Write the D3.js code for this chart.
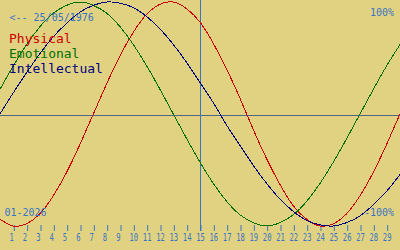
<!DOCTYPE html>
<html lang="en">
<head>
    <meta charset="UTF-8">
    <title>Biorhythm 01-2026</title>
    <script src="https://d3js.org/d3.v7.min.js"></script>
    <style type="text/css">
        body { margin: 0; background: #e1d282; }
        svg { display: block; }
        text { font-family: "DejaVu Sans Mono", monospace; }
    </style>
</head>
    <body>
        <script type="text/javascript">

        //Width and height
        var w = 400;
        var h = 250;

        //Days of the month (0 and 30 are the edges), values in percent
        var days = d3.range(0, 31);
        var physical = [-94, -100, -98, -89, -73, -52, -27, 0, 27, 52, 73, 89, 98, 100, 94, 82,
                        63, 40, 14, -14, -40, -63, -82, -94, -100, -98, -89, -73, -52, -27, 0];
        var emotional = [22, 43, 62, 78, 90, 97, 100, 97, 90, 78, 62, 43, 22, 0, -22, -43,
                         -62, -78, -90, -97, -100, -97, -90, -78, -62, -43, -22, 0, 22, 43, 62];
        var intellectual = [0, 19, 37, 54, 69, 81, 91, 97, 100, 99, 95, 87, 76, 62, 46, 28,
                            10, -10, -28, -46, -62, -76, -87, -95, -99, -100, -97, -91, -81, -69, -54];
        var tickDays = d3.range(1, 30);
        var today = 15;
        var birthLabel = "<-- 25/05/1976";
        var monthLabel = "01-2026";
        var legendNames = ["Physical", "Emotional", "Intellectual"];
        var legendColors = ["#cc0000", "#007000", "#000080"];

        var series = [physical, emotional, intellectual];

        var xScale = d3.scaleLinear().domain([0, 30]).range([0, w]);
        var yScale = d3.scaleLinear().domain([-100, 100]).range([226, 2]);

        var svg = d3.select("body")
            .append("svg")
            .attr("width", w)
            .attr("height", h);

        svg.append("rect")
            .attr("width", w)
            .attr("height", h)
            .attr("fill", "#e1d282");

        //Zero line
        svg.append("line")
            .attr("x1", 0).attr("x2", w)
            .attr("y1", 115.5).attr("y2", 115.5)
            .attr("stroke", "#4f6584")
            .attr("stroke-width", 1);

        //Today marker
        svg.append("line")
            .attr("x1", Math.round(xScale(today)) + 0.5)
            .attr("x2", Math.round(xScale(today)) + 0.5)
            .attr("y1", 0).attr("y2", 231)
            .attr("stroke", "#3a74c4")
            .attr("stroke-width", 1);

        //Day axis
        var axis = d3.axisBottom(xScale)
            .tickValues(tickDays)
            .tickSize(6)
            .tickFormat(d3.format("d"));

        var gAxis = svg.append("g")
            .attr("transform", "translate(0,225)")
            .call(axis);
        gAxis.select(".domain").remove();
        gAxis.selectAll(".tick line")
            .attr("stroke", "#3a74c4")
            .attr("transform", "translate(0.5,0)");
        //narrow digits, like the small pixel font of the original
        gAxis.selectAll(".tick text")
            .attr("fill", "#3a74c4")
            .attr("font-size", "10px")
            .attr("font-family", "DejaVu Sans Mono")
            .attr("text-anchor", "start")
            .attr("transform", "scale(0.72,1)")
            .attr("x", -6)
            .attr("y", 16.5)
            .attr("dy", null);

        //Curves
        var line = d3.line()
            .x(function (d, i) { return xScale(days[i]); })
            .y(function (d) { return yScale(d); })
            .curve(d3.curveNatural);

        svg.selectAll("path.curve")
            .data(series)
            .enter()
            .append("path")
            .attr("class", "curve")
            .attr("d", line)
            .attr("fill", "none")
            .attr("stroke", function (d, i) { return legendColors[i]; })
            .attr("stroke-width", 1)
            .attr("shape-rendering", "crispEdges");

        //Labels
        svg.append("text")
            .text(birthLabel)
            .attr("x", 9.5).attr("y", 21)
            .attr("font-size", "10px")
            .attr("fill", "#3a74c4");

        svg.append("text")
            .text(monthLabel)
            .attr("x", 4.5).attr("y", 216)
            .attr("font-size", "10px")
            .attr("fill", "#3a74c4");

        svg.append("text")
            .text("100%")
            .attr("x", 394).attr("y", 16)
            .attr("text-anchor", "end")
            .attr("font-size", "10px")
            .attr("fill", "#3a74c4");

        svg.append("text")
            .text("-100%")
            .attr("x", 394).attr("y", 216)
            .attr("text-anchor", "end")
            .attr("font-size", "10px")
            .attr("fill", "#3a74c4");

        svg.selectAll("text.legend")
            .data(legendNames)
            .enter()
            .append("text")
            .attr("class", "legend")
            .text(function (d) { return d; })
            .attr("x", 9)
            .attr("y", function (d, i) { return 43 + i * 15; })
            .attr("font-size", "13px")
            .attr("fill", function (d, i) { return legendColors[i]; });

        </script>
    </body>
</html>
